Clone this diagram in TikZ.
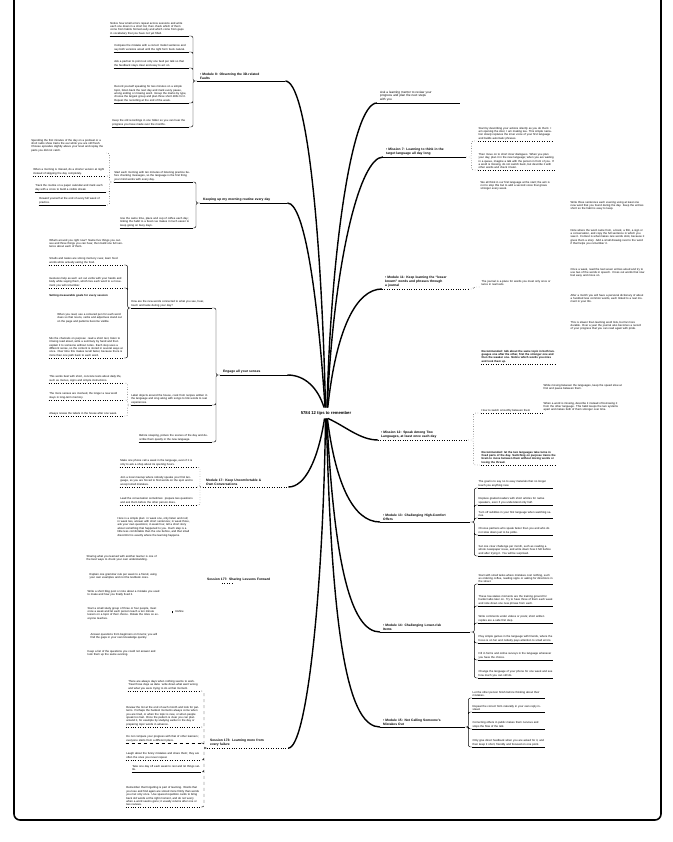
\documentclass[tikz,border=0pt]{standalone}
\usepackage{fontspec}
\setmainfont{Liberation Sans}
\tikzset{
  leaf/.style={inner xsep=0.5pt, inner ysep=0.9pt, text width=#1, align=left, font=\fontsize{2.8}{3.4}\selectfont},
  leaf/.default=72,
  leafb/.style={leaf=#1, font=\fontsize{2.8}{3.4}\selectfont\bfseries},
  leafb/.default=72,
  topic/.style={inner xsep=3pt, inner ysep=1.5pt, text width=#1, align=left, font=\fontsize{3.3}{4}\selectfont\bfseries},
  topic/.default=76,
  trunk/.style={line width=1.4pt},
  twig/.style={line width=0.45pt, rounded corners=2pt},
  rule/.style={line width=0.45pt},
}
\begin{document}
\begin{tikzpicture}[x=1pt,y=-1pt]
\useasboundingbox (0,0) rectangle (672,842);
\draw[line width=1.6pt, rounded corners=6pt] (14,0) -- (14,820) -- (661,820) -- (661,0);

\path node[font=\fontsize{4.2}{5}\selectfont\bfseries] (T) at (326,413) {5784 12 tips to remember};

% main topics, left
\path node[topic=82, anchor=south west] (L1) at (197,81) {\textbullet\ Module 8: Observing the 3D-related\\Faults}
node[topic=81, anchor=south west] (L2) at (200,203) {Keeping up my morning routine every day}
node[topic=62, anchor=south west] (L3) at (220,375) {Engage all your senses}
node[topic=79, anchor=south west] (L4) at (203,487) {Module 17: Keep Uncomfortable \&\\Own Conversations}
node[topic=72, anchor=south west] (L5) at (204,583) {Session 177: Sharing Lessons Forward}
node[topic=75, anchor=south west] (L6) at (207,748) {Session 173: Learning more from\\every failure}
;
% main topics, right
\path node[topic=77, anchor=south west, font=\fontsize{3.1}{3.8}\selectfont] (R1) at (377,103) {Ask a learning mentor to review your\\progress and plan the next steps\\with you}
node[topic=77, anchor=south west] (R2) at (383,157) {\textbullet\ Mission 7: Learning to think in the\\target language all day long}
node[topic=80, anchor=south west] (R3) at (382,289) {\textbullet\ Module 11: Keep learning the ``lesser\\known'' words and phrases through\\a journal}
node[topic=84, anchor=south west] (R4) at (378,440) {\textbullet\ Mission 12: Speak Among Two\\Languages, at least once each day}
node[topic=84, anchor=south west] (R5) at (380,522) {\textbullet\ Module 13: Challenging High-Comfort\\Offers}
node[topic=84, anchor=south west] (R6) at (380,632) {\textbullet\ Module 14: Challenging Lower-risk\\Items}
node[topic=79, anchor=south west] (R7) at (380,727) {\textbullet\ Module 15: Not Calling Someone's\\Mistakes Out}
;

% trunk
\draw[trunk] (T.95) .. controls (321,220) and (306,82) .. (L1.south east);
\draw[trunk] (T.100) .. controls (318,300) and (305,203) .. (L2.south east);
\draw[trunk] (T.110) .. controls (318,388) and (305,375) .. (L2.south east |- L3.south east) -- (L3.south east);
\draw[trunk] (T.255) .. controls (318,460) and (305,487) .. (L4.south east);
\draw[trunk] (T.265) .. controls (323,600) and (306,748) .. (L6.south east);
\draw[trunk] (T.80) .. controls (331,250) and (352,103) .. (R1.south west);
\draw[trunk] (T.78) .. controls (334,260) and (360,157) .. (R2.south west);
\draw[trunk] (T.72) .. controls (336,330) and (356,289) .. (R3.south west);
\draw[trunk] (T.290) .. controls (345,426) and (360,440) .. (R4.south west);
\draw[trunk] (T.284) .. controls (335,480) and (352,522) .. (R5.south west);
\draw[trunk] (T.279) .. controls (334,560) and (350,632) .. (R6.south west);
\draw[trunk] (T.274) .. controls (332,650) and (350,727) .. (R7.south west);

% topic underlines
\draw[rule] (L1.south west) -- (L1.south east) (L2.south west) -- (L2.south east)
  (L3.south west) -- (L3.south east) (R1.south west) -- (R1.south east)
  (R2.south west) -- (R2.south east) (R5.south west) -- (R5.south east)
  (R6.south west) -- (R6.south east) (R7.south west) -- (R7.south east);
\draw[rule, dotted] (L4.south west) -- (L4.south east) (L6.south west) -- (L6.south east)
  (R3.south west) -- (R3.south east) (R4.south west) -- (R4.south east)
  ([xshift=18pt]L5.south west) -- ++(10,0);

% Module 8
\path node[leaf=78, anchor=south east] (L1a) at (189,36) {Notice how small errors repeat across sessions and write each one down in a short list, then check which of them come from habits formed early and which come from gaps in vocabulary that you have not yet filled.}
node[leaf=74, anchor=south east] (L1b) at (189,52) {Compare the mistake with a correct model sentence and say both versions aloud until the right form feels natural.}
node[leaf=74, anchor=south east] (L1c) at (189,68) {Ask a partner to point out only one fault per talk so that the feedback stays clear and easy to act on.}
node[leaf=74, anchor=south east] (L1d) at (189,103) {Record yourself speaking for two minutes on a simple topic, listen back the next day and mark every pause, wrong ending or missing word. Group the marks by type, choose the largest group and plan three short drills for it. Repeat the recording at the end of the week.}
node[leaf=76, anchor=south east] (L1e) at (189,127) {Keep the old recordings in one folder so you can hear the progress you have made over the months.}
;
\draw[rule] (L1a.south west) -- (L1a.south east) (L1b.south west) -- (L1b.south east)
  (L1c.south west) -- (L1c.south east) (L1d.south west) -- (L1d.south east)
  (L1e.south west) -- (L1e.south east);
\draw[twig] (L1.south west) -- ++(-4,0) |- (L1a.south east) (L1.south west) -- ++(-4,0) |- (L1b.south east)
  (L1.south west) -- ++(-4,0) |- (L1c.south east) (L1.south west) -- ++(-4,0) |- (L1d.south east)
  (L1.south west) -- ++(-4,0) |- (L1e.south east);

% morning routine
\path node[leaf=78, anchor=south east] (L2a) at (193,182) {Start each morning with ten minutes of listening practice before checking messages, so the language is the first thing your mind works with every day.}
node[leaf=72, anchor=south east] (L2b) at (193,228) {Use the same time, place and cup of coffee each day; linking the habit to a fixed cue makes it much easier to keep going on busy days.}
node[leaf=74, anchor=south east] (L2a1) at (106,153) {Spending the first minutes of the day on a podcast or a short radio show trains the ear while you are still fresh. Choose episodes slightly above your level and replay the parts you did not catch.}
node[leaf=72, anchor=south east] (L2a2) at (106,176) {When a morning is missed, do a shorter version at night instead of skipping the day completely.}
node[leaf=70, anchor=south east] (L2a3) at (106,192) {Track the routine on a paper calendar and mark each day with a cross to build a visible streak.}
node[leaf=66, anchor=south east] (L2a4) at (106,205) {Reward yourself at the end of every full week of practice.}
;
\draw[rule] (L2a.south west) -- (L2a.south east) (L2b.south west) -- (L2b.south east)
  (L2a3.south west) -- (L2a3.south east) (L2a4.south west) -- (L2a4.south east);
\draw[rule, dotted] (L2a2.south west) -- (L2a2.south east);
\draw[twig] (L2.south west) -- ++(-4,0) |- (L2a.south east) (L2.south west) -- ++(-4,0) |- (L2b.south east);
\draw[twig, dotted] (L2a.south west) -- ++(-4,0) |- (L2a1.south east) (L2a.south west) -- ++(-4,0) |- (L2a2.south east)
  (L2a.south west) -- ++(-4,0) |- (L2a3.south east) (L2a.south west) -- ++(-4,0) |- (L2a4.south east);

% senses
\path node[leaf=80, anchor=south east] (L3a) at (212,308) {How are the new words connected to what you see, hear, touch and taste during your day?}
node[leaf=80, anchor=south east] (L3b) at (212,405) {Label objects around the house, cook from recipes written in the language and sing along with songs to link words to real experiences.}
node[leaf=72, anchor=south east] (L3c) at (212,442) {Before sleeping, picture the scenes of the day and describe them quietly in the new language.}
node[leaf=74, anchor=south east] (L3a1) at (124,249) {What's around you right now? Name five things you can see and three things you can hear, then build one full sentence about each of them.}
node[leaf=74, anchor=south east] (L3a2) at (124,265) {Smells and tastes are strong memory cues; learn food words while actually eating the food.}
node[leaf=74, anchor=south east] (L3a3) at (124,288) {Gestures help as well: act out verbs with your hands and body while saying them, which ties each word to a movement you will remember.}
node[leafb=74, anchor=south east] (L3a4) at (124,298) {Setting measurable goals for every session}
node[leaf=66, anchor=south east] (L3a5) at (124,324) {When you read, use a coloured pen for each word class so that nouns, verbs and adjectives stand out on the page and patterns become visible.}
node[leaf=74, anchor=south east] (L3a6) at (124,358) {Mix the channels on purpose: read a short text, listen to it being read aloud, write a summary by hand and then explain it to someone without notes. Each step uses a different sense, so the content is stored in several ways at once. Over time this makes recall faster, because there is more than one path back to each word.}
node[leaf=74, anchor=south east] (L3b1) at (124,383) {This works best with short, concrete texts about daily life, such as menus, signs and simple instructions.}
node[leaf=74, anchor=south east] (L3b2) at (124,400) {The more senses are involved, the longer a new word stays in long-term memory.}
node[leaf=74, anchor=south east] (L3b3) at (124,416) {Always review the labels in the house after one week.}
;
\draw[rule] (L3a.south west) -- (L3a.south east) (L3b.south west) -- (L3b.south east)
  (L3c.south west) -- (L3c.south east);
\draw[rule, dotted] (L3a2.south west) -- (L3a2.south east) (L3a3.south west) -- (L3a3.south east)
  (L3a6.south west) -- (L3a6.south east) (L3b1.south west) -- (L3b1.south east)
  (L3b2.south west) -- (L3b2.south east) (L3b3.south west) -- (L3b3.south east);
\draw[twig] (L3.south west) -- ++(-4,0) |- (L3a.south east) (L3.south west) -- ++(-4,0) |- (L3b.south east)
  (L3.south west) -- ++(-4,0) |- (L3c.south east);
\draw[twig] (L3a.south west) -- ++(-3,0) |- (L3a2.south east) (L3a.south west) -- ++(-3,0) |- (L3a3.south east)
  (L3a.south west) -- ++(-3,0) |- (L3a6.south east);
\draw[twig, dotted] (L3b.south west) -- ++(-3,0) |- (L3b1.south east) (L3b.south west) -- ++(-3,0) |- (L3b2.south east)
  (L3b.south west) -- ++(-3,0) |- (L3b3.south east);

% Module 17
\path node[leaf=76, anchor=south east] (L4a) at (197,467) {Make one phone call a week in the language, even if it is only to ask a shop about its opening hours.}
node[leaf=76, anchor=south east] (L4b) at (197,487) {Join a local meetup where nobody speaks your first language, so you are forced to find words on the spot and to accept small mistakes.}
node[leaf=76, anchor=south east] (L4c) at (197,505) {Lead the conversation sometimes: prepare two questions and ask them before the other person does.}
node[leaf=74, anchor=north west] (L4d) at (117,516) {Here is a simple plan: in week one, only listen and nod; in week two, answer with short sentences; in week three, ask your own questions; in week four, tell a short story about something that happened to you. Each step is a little less comfortable than the one before, and that small discomfort is exactly where the learning happens.}
;
\draw[rule, dotted] (L4a.south west) -- (L4a.south east) (L4b.south west) -- (L4b.south east)
  (L4c.south west) -- (L4c.south east);
\draw[twig, dotted] (L4.south west) -- ++(-3,0) |- (L4a.south east) (L4.south west) -- ++(-3,0) |- (L4b.south east)
  (L4.south west) -- ++(-3,0) |- (L4c.south east);

% Session 177
\path node[leaf=72, anchor=north west] (L5a) at (86,554) {Sharing what you learned with another learner is one of the best ways to check your own understanding.}
node[leaf=68, anchor=north west] (L5b) at (89,572) {Explain one grammar rule per week to a friend, using your own examples and not the textbook ones.}
node[leaf=72, anchor=north west] (L5c) at (87,589) {Write a short blog post or note about a mistake you used to make and how you finally fixed it.}
node[leaf=72, anchor=north west] (L5d) at (87,606) {Start a small study group of three or four people, meet once a week and let each person teach a ten minute lesson on a topic of their choice. Rotate the roles so everyone teaches.}
node[leaf=68, anchor=north west] (L5e) at (90,632) {Answer questions from beginners on forums; you will find the gaps in your own knowledge quickly.}
node[leaf=72, anchor=north west] (L5f) at (87,649) {Keep a list of the questions you could not answer and look them up the same evening.}
node[leaf=16, anchor=north west] (L5r) at (175,609) {Refine}
;
\draw[rule] ([xshift=-3pt]L5r.south west) -- ++(0,-2.5);

% Session 173
\path node[leaf=72, anchor=south east] (L6a) at (201,691) {There are always days when nothing seems to work. Treat those days as data: write down what went wrong and what you were trying to do at that moment.}
node[leaf=74, anchor=south east] (L6b) at (201,727) {Review the list at the end of each month and look for patterns. Perhaps the hardest moments always come when you are tired, or when the topic is new, or when people speak too fast. Once the pattern is clear you can plan around it, for example by studying earlier in the day or preparing topic words in advance.}
node[leaf=74, anchor=south east] (L6c) at (201,743) {Do not compare your progress with that of other learners; everyone starts from a different place.}
node[leaf=74, anchor=south east] (L6d) at (201,760) {Laugh about the funny mistakes and share them; they are often the ones you never repeat.}
node[leaf=68, anchor=south east] (L6e) at (201,772) {Take one day off each week to rest and let things settle.}
node[leaf=74, anchor=south east] (L6f) at (201,807) {Remember that forgetting is part of learning. Words that you lose and find again are stored more firmly than words you met only once. Use spaced repetition cards to bring back old words at the right moment, and do not worry when a word seems gone; it usually returns after one or two reviews.}
;
\draw[rule, dotted] (L6a.south west) -- (L6a.south east) (L6b.south west) -- (L6b.south east)
  (L6d.south west) -- (L6d.south east) (L6f.south west) -- (L6f.south east);
\draw[rule, dashed] (L6c.south west) -- (L6c.south east);
\draw[rule] (L6e.south west) -- (L6e.south east);
\draw[twig, dashed] (L6.south west) -- ++(-3,0) |- (L6a.south east) (L6.south west) -- ++(-3,0) |- (L6b.south east)
  (L6.south west) -- ++(-3,0) |- (L6c.south east) (L6.south west) -- ++(-3,0) |- (L6d.south east)
  (L6.south west) -- ++(-3,0) |- (L6e.south east) (L6.south west) -- ++(-3,0) |- (L6f.south east);

% Mission 7
\path node[leaf=74, anchor=south west] (R2a) at (478,141) {Start by describing your actions silently as you do them: I am opening the door, I am making tea. This simple narration slowly replaces the inner voice of your first language and builds automatic phrases.}
node[leaf=76, anchor=south west] (R2b) at (478,170) {Then move on to short inner dialogues. When you plan your day, plan it in the new language; when you are waiting in a queue, imagine a talk with the person in front of you. If a word is missing, do not switch back, but describe it with other words and check it later.}
node[leaf=72, anchor=north west] (R2c) at (480,180) {We all think in our first language at the start; the aim is not to stop this but to add a second voice that grows stronger every week.}
;
\draw[rule, dotted] (R2a.south west) -- (R2a.south east) (R2b.south west) -- (R2b.south east);
\draw[twig, dotted] (R2.south east) -- ++(5,0) |- (R2a.south west) (R2.south east) -- ++(5,0) |- (R2b.south west);

% Module 11
\path node[leaf=76, anchor=south west] (R3a) at (481,287) {The journal is a place for words you meet only once or twice in real texts.}
node[leaf=74, anchor=north west] (R3b1) at (570,200) {Write three sentences each evening using at least one new word that you found during the day. Keep the entries short so the habit is easy to keep.}
node[leaf=74, anchor=north west] (R3b2) at (570,228) {Note where the word came from, a book, a film, a sign or a conversation, and copy the full sentence in which you saw it. Context is what makes rare words stick, because it gives them a story. Add a small drawing next to the word if that helps you remember it.}
node[leaf=74, anchor=north west] (R3b3) at (570,267) {Once a week, read the last seven entries aloud and try to use two of the words in speech. Cross out words that now feel easy and move on.}
node[leaf=74, anchor=north west] (R3b4) at (570,293) {After a month you will have a personal dictionary of about a hundred less common words, each linked to a real moment in your life.}
node[leaf=74, anchor=north west] (R3b5) at (570,320) {This is slower than learning word lists, but far more durable. Over a year the journal also becomes a record of your progress that you can read again with pride.}
;
\draw[twig, dotted] (R3.south east) -- ++(5,0) |- (R3a.south west);

% Mission 12
\path node[leaf=60, anchor=south west] (R4a) at (481,413) {How to switch smoothly between them}
node[leafb=74, anchor=south west] (R4b) at (481,465) {Recommended: let the two languages take turns in fixed parts of the day. Switching on purpose trains the brain to move between them without mixing words or losing the thread.}
node[leafb=74, anchor=north west] (R4a1) at (481,349) {Recommended: talk about the same topic in both languages one after the other, first the stronger one and then the weaker one. Notice which words you miss and look them up.}
node[leaf=80, anchor=north west] (R4a2) at (543,383) {While moving between the languages, keep the speed slow at first and pause between them.}
node[leaf=80, anchor=north west] (R4a3) at (543,401) {When a word is missing, describe it instead of borrowing it from the other language. This habit keeps the two systems apart and makes both of them stronger over time.}
;
\draw[rule, dotted] (R4a.south west) -- (R4a.south east) (R4b.south west) -- (R4b.south east)
  (R4a1.south west) -- (R4a1.south east);
\draw[twig, dotted] (R4.south east) -- ++(5,0) |- (R4a.south west) (R4.south east) -- ++(5,0) |- (R4b.south west);

% Module 13
\path node[leaf=74, anchor=south west] (R5a) at (478,488) {The goal is to say no to easy materials that no longer teach you anything new.}
node[leaf=74, anchor=south west] (R5b) at (478,505) {Replace graded readers with short articles for native speakers, even if you understand only half.}
node[leaf=74, anchor=south west] (R5c) at (478,518) {Turn off subtitles in your first language when watching series.}
node[leaf=74, anchor=south west] (R5d) at (478,535) {Choose partners who speak faster than you and who do not slow down just to be polite.}
node[leaf=74, anchor=south west] (R5e) at (478,556) {Set one clear challenge per month, such as reading a whole newspaper issue, and write down how it felt before and after trying it. You will be surprised.}
;
\draw[rule] (R5a.south west) -- (R5a.south east) (R5b.south west) -- (R5b.south east)
  (R5c.south west) -- (R5c.south east) (R5d.south west) -- (R5d.south east)
  (R5e.south west) -- (R5e.south east);
\draw[twig] (R5.south east) -- ++(4,0) |- (R5a.south west) (R5.south east) -- ++(4,0) |- (R5b.south west)
  (R5.south east) -- ++(4,0) |- (R5c.south west) (R5.south east) -- ++(4,0) |- (R5d.south west)
  (R5.south east) -- ++(4,0) |- (R5e.south west);

% Module 14
\path node[leaf=74, anchor=south west] (R6a) at (478,584) {Start with small tasks where mistakes cost nothing, such as ordering coffee, reading signs or asking for directions in the street.}
node[leaf=74, anchor=south west] (R6b) at (478,606) {These low-stakes moments are the training ground for harder talks later on. Try to have three of them each week and note down one new phrase from each.}
node[leaf=74, anchor=south west] (R6c) at (478,623) {Write comments under videos or posts; short written replies are a safe first step.}
node[leaf=74, anchor=south west] (R6d) at (478,643) {Play simple games in the language with friends, where the focus is on fun and nobody pays attention to small errors.}
node[leaf=74, anchor=south west] (R6e) at (478,660) {Fill in forms and online surveys in the language whenever you have the choice.}
node[leaf=74, anchor=south west] (R6f) at (478,678) {Change the language of your phone for one week and see how much you can still do.}
;
\draw[rule] (R6a.south west) -- (R6a.south east) (R6b.south west) -- (R6b.south east)
  (R6c.south west) -- (R6c.south east) (R6d.south west) -- (R6d.south east)
  (R6e.south west) -- (R6e.south east) (R6f.south west) -- (R6f.south east);
\draw[twig] (R6.south east) -- ++(4,0) |- (R6a.south west) (R6.south east) -- ++(4,0) |- (R6b.south west)
  (R6.south east) -- ++(4,0) |- (R6c.south west) (R6.south east) -- ++(4,0) |- (R6d.south west)
  (R6.south east) -- ++(4,0) |- (R6e.south west) (R6.south east) -- ++(4,0) |- (R6f.south west);

% Module 15
\path node[leaf=72, anchor=south west] (R7a) at (472,698) {Let the other person finish before thinking about their mistakes.}
node[leaf=72, anchor=south west] (R7b) at (472,712) {Repeat the correct form naturally in your own reply instead.}
node[leaf=72, anchor=south west] (R7c) at (472,729) {Correcting others in public makes them nervous and stops the flow of the talk.}
node[leaf=72, anchor=south west] (R7d) at (472,747) {Only give direct feedback when you are asked for it, and then keep it short, friendly and focused on one point.}
;
\draw[rule] (R7a.south west) -- (R7a.south east) (R7b.south west) -- (R7b.south east)
  (R7c.south west) -- (R7c.south east) (R7d.south west) -- (R7d.south east);
\draw[twig] (R7.south east) -- ++(3,0) |- (R7a.south west) (R7.south east) -- ++(3,0) |- (R7b.south west)
  (R7.south east) -- ++(3,0) |- (R7c.south west) (R7.south east) -- ++(3,0) |- (R7d.south west);
\end{tikzpicture}
\end{document}
